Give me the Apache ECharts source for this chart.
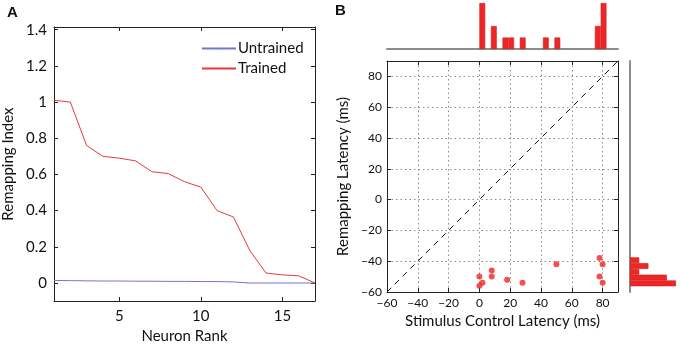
<!DOCTYPE html>
<html>
<head>
<meta charset="utf-8">
<script src="https://cdn.jsdelivr.net/npm/echarts@6/dist/echarts.min.js"></script>
<style>
  html, body { margin: 0; padding: 0; background: #fff; }
  #chart { width: 680px; height: 349px; }
</style>
</head>
<body>
<div id="chart"></div>
<script>
// panel A: remapping index by neuron rank
const neuronRank = [1, 2, 3, 4, 5, 6, 7, 8, 9, 10, 11, 12, 13, 14, 15, 16, 17]
const trainedIndex = [1.01, 1.0, 0.76, 0.70, 0.69, 0.675, 0.615, 0.605, 0.56, 0.53, 0.40, 0.365, 0.18, 0.055, 0.045, 0.04, 0.0]
const untrainedIndex = [0.014, 0.013, 0.012, 0.011, 0.011, 0.010, 0.010, 0.009, 0.009, 0.008, 0.008, 0.006, 0.0, 0.0, 0.0, 0.0, 0.0]
const rankTicks = [5, 10, 15]
const indexTicks = [0, 0.2, 0.4, 0.6, 0.8, 1, 1.2, 1.4]

// panel B: latencies (ms)
const controlLatency = [0, 0, 2, 8, 8, 18, 28, 50, 78, 80, 78, 80]
const remapLatency = [-50, -56, -54, -46, -50, -52, -54, -42, -38, -42, -50, -54]
const unityLine = [-60, 90]

// marginal histograms, 40 bins of 3.75 ms from -60 to 90
const binStarts = [-60, -56.25, -52.5, -48.75, -45, -41.25, -37.5, -33.75, -30, -26.25,
  -22.5, -18.75, -15, -11.25, -7.5, -3.75, 0, 3.75, 7.5, 11.25,
  15, 18.75, 22.5, 26.25, 30, 33.75, 37.5, 41.25, 45, 48.75,
  52.5, 56.25, 60, 63.75, 67.5, 71.25, 75, 78.75, 82.5, 86.25]
const controlHist = [0, 0, 0, 0, 0, 0, 0, 0, 0, 0,
  0, 0, 0, 0, 0, 0, 4, 0, 2, 0,
  1, 1, 0, 1, 0, 0, 0, 1, 0, 1,
  0, 0, 0, 0, 0, 0, 2, 4, 0, 0]
const remapHist = [0, 5, 4, 1, 2, 1, 0, 0, 0, 0,
  0, 0, 0, 0, 0, 0, 0, 0, 0, 0,
  0, 0, 0, 0, 0, 0, 0, 0, 0, 0,
  0, 0, 0, 0, 0, 0, 0, 0, 0, 0]

const font = 'Lato'
const frame = '#222'
const red = '#f02626'
const minus = v => (v < 0 ? '\u2212' + (-v) : String(v))

const chart = echarts.init(document.getElementById('chart'))

const mirror = (extra) => Object.assign({
  axisLine: { show: true, onZero: false, lineStyle: { color: frame, width: 1 } },
  axisTick: { show: true, inside: true, length: 4, lineStyle: { color: frame } },
  axisLabel: { show: false },
  splitLine: { show: false }
}, extra)

chart.setOption({
  animation: false,
  textStyle: { fontFamily: font, color: '#111' },
  title: [
    { text: 'A', left: 7, top: 5, padding: 0, textStyle: { fontSize: 15, fontWeight: 'bold', fontFamily: 'Liberation Sans', color: '#111' } },
    { text: 'B', left: 335, top: 3, padding: 0, textStyle: { fontSize: 15, fontWeight: 'bold', fontFamily: 'Liberation Sans', color: '#111' } }
  ],
  legend: {
    orient: 'vertical',
    left: 196,
    top: 36,
    itemWidth: 34,
    itemHeight: 2,
    itemGap: 5,
    textStyle: { fontSize: 15, fontFamily: font, color: '#111', padding: [0, 0, 0, -3] },
    data: ['Untrained', 'Trained']
  },
  grid: [
    { left: 53, top: 27, width: 262, height: 280 },
    { left: 387, top: 61, width: 231, height: 231 },
    { left: 387, top: 3, width: 231, height: 46 },
    { left: 630, top: 61, width: 46, height: 231 }
  ],
  xAxis: [
    mirror({
      type: 'value', gridIndex: 0, min: 1, max: 17, position: 'bottom',
      axisTick: { show: true, inside: true, length: 4, customValues: rankTicks, lineStyle: { color: frame } },
      axisLabel: { show: true, customValues: rankTicks, fontSize: 15, color: '#111', margin: 8 },
      name: 'Neuron Rank', nameLocation: 'middle', nameGap: 26,
      nameTextStyle: { fontSize: 15, color: '#111' }
    }),
    mirror({
      type: 'value', gridIndex: 0, min: 1, max: 17, position: 'top',
      axisTick: { show: true, inside: true, length: 4, customValues: rankTicks, lineStyle: { color: frame } }
    }),
    mirror({
      type: 'value', gridIndex: 1, min: -60, max: 90, interval: 20, position: 'bottom',
      axisLabel: { show: true, fontSize: 12, color: '#111', margin: 5, formatter: minus, showMaxLabel: false },
      splitLine: { show: true, lineStyle: { color: '#8a8a8a', type: [1.5, 3], width: 1 } },
      name: 'Stimulus Control Latency (ms)', nameLocation: 'middle', nameGap: 22,
      nameTextStyle: { fontSize: 15, color: '#111' }
    }),
    mirror({ type: 'value', gridIndex: 1, min: -60, max: 90, interval: 20, position: 'top' }),
    {
      type: 'category', gridIndex: 2, data: binStarts, boundaryGap: true,
      axisLine: { show: true, lineStyle: { color: '#8c8c8c', width: 2 } },
      axisTick: { show: false }, axisLabel: { show: false }, splitLine: { show: false }
    },
    { type: 'value', gridIndex: 3, min: 0, max: 5, show: false }
  ],
  yAxis: [
    mirror({
      type: 'value', gridIndex: 0, min: -0.1, max: 1.415, position: 'left',
      axisTick: { show: true, inside: true, length: 4, customValues: indexTicks, lineStyle: { color: frame } },
      axisLabel: { show: true, customValues: indexTicks, fontSize: 15, color: '#111', margin: 7 },
      name: 'Remapping Index', nameLocation: 'middle', nameGap: 38,
      nameTextStyle: { fontSize: 15, color: '#111' }
    }),
    mirror({
      type: 'value', gridIndex: 0, min: -0.1, max: 1.415, position: 'right',
      axisTick: { show: true, inside: true, length: 4, customValues: indexTicks, lineStyle: { color: frame } }
    }),
    mirror({
      type: 'value', gridIndex: 1, min: -60, max: 90, interval: 20, position: 'left',
      axisLabel: { show: true, fontSize: 12, color: '#111', margin: 5, formatter: minus, showMaxLabel: false },
      splitLine: { show: true, lineStyle: { color: '#8a8a8a', type: [1.5, 3], width: 1 } },
      name: 'Remapping Latency (ms)', nameLocation: 'middle', nameGap: 36,
      nameTextStyle: { fontSize: 15, color: '#111' }
    }),
    mirror({ type: 'value', gridIndex: 1, min: -60, max: 90, interval: 20, position: 'right' }),
    { type: 'value', gridIndex: 2, min: 0, max: 4, show: false },
    {
      type: 'category', gridIndex: 3, data: binStarts, boundaryGap: true,
      axisLine: { show: true, lineStyle: { color: '#8c8c8c', width: 2 } },
      axisTick: { show: false }, axisLabel: { show: false }, splitLine: { show: false }
    }
  ],
  series: [
    {
      name: 'Untrained', type: 'line', xAxisIndex: 0, yAxisIndex: 0, symbol: 'none',
      lineStyle: { color: '#7077cc', width: 1 }, itemStyle: { color: '#7077cc' },
      data: neuronRank.map((r, i) => [r, untrainedIndex[i]])
    },
    {
      name: 'Trained', type: 'line', xAxisIndex: 0, yAxisIndex: 0, symbol: 'none',
      lineStyle: { color: '#e8383d', width: 1 }, itemStyle: { color: '#e8383d' },
      data: neuronRank.map((r, i) => [r, trainedIndex[i]])
    },
    {
      name: 'unity', type: 'line', xAxisIndex: 2, yAxisIndex: 2, symbol: 'none',
      lineStyle: { color: '#111', width: 1, type: [6, 5] },
      data: unityLine.map(v => [v, v])
    },
    {
      name: 'neurons', type: 'scatter', xAxisIndex: 2, yAxisIndex: 2, symbolSize: 6,
      itemStyle: { color: red },
      data: controlLatency.map((c, i) => [c, remapLatency[i]])
    },
    {
      name: 'controlHist', type: 'bar', xAxisIndex: 4, yAxisIndex: 4,
      barCategoryGap: '0%', itemStyle: { color: red, borderColor: '#c81e1e', borderWidth: 0.6 },
      data: controlHist.map(v => (v > 0 ? v : null))
    },
    {
      name: 'remapHist', type: 'bar', xAxisIndex: 5, yAxisIndex: 5,
      barCategoryGap: '0%', itemStyle: { color: red, borderColor: '#c81e1e', borderWidth: 0.6 },
      data: remapHist.map(v => (v > 0 ? v : null))
    }
  ]
})
</script>
</body>
</html>
